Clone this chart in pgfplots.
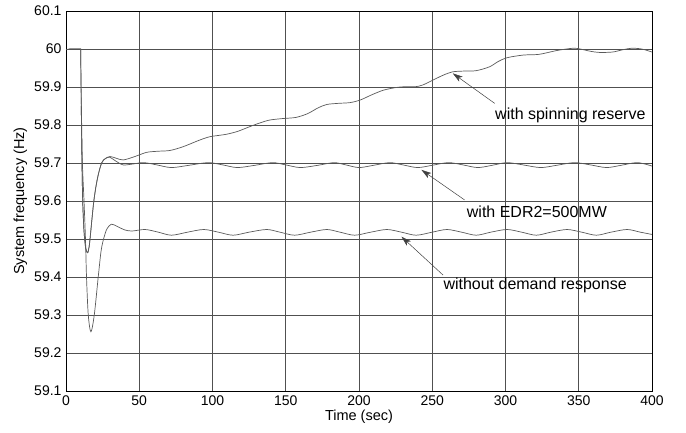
\documentclass[border=0pt]{standalone}
\usepackage{fontspec}
\setmainfont{Liberation Sans}
\usepackage{pgfplots}
\pgfplotsset{compat=1.18}
\usetikzlibrary{arrows.meta}
\definecolor{curve}{HTML}{5A5A5A}
\definecolor{gridc}{HTML}{505050}
\begin{document}
\begin{tikzpicture}[x=1pt,y=1pt]
\path (0,0) rectangle (686,432);
\begin{axis}[
  at={(66pt,41pt)}, anchor=south west,
  scale only axis, width=586pt, height=380pt,
  xmin=0, xmax=400, ymin=59.1, ymax=60.1,
  xtick={0,50,...,400},
  ytick={59.1,59.2,...,60.1},
  yticklabels={59.1,59.2,59.3,59.4,59.5,59.6,59.7,59.8,59.9,60,60.1},
  grid=major,
  major grid style={gridc, line width=0.8pt},
  axis line style={black, line width=0.8pt},
  tick style={draw=none},
  /pgf/number format/assume math mode=true,
  ticklabel style={font=\fontsize{14}{16}\selectfont},
  xticklabel style={yshift=-1pt},
  yticklabel style={xshift=-1pt},
  xlabel={Time (sec)}, ylabel={System frequency (Hz)},
  every axis x label/.style={at={(axis description cs:0.5,-0.068)}, anchor=center,
    font=\fontsize{14.5}{16}\selectfont},
  every axis y label/.style={at={(axis description cs:-0.078,0.5)}, rotate=90, anchor=center,
    font=\fontsize{14.5}{16}\selectfont},
  clip=true,
]
% initial flat part (all cases)
\addplot[curve, line width=0.7pt] coordinates {(0,59.998)(3,60.001)(10,60.001)(10.4,59.85)};
% with spinning reserve
\addplot[curve, line width=0.7pt, smooth] coordinates {
(10.4,59.85)(10.9,59.7)(11.4,59.6)(12.3,59.52)(13.5,59.475)(14.8,59.464)(15.8,59.48)(16.4,59.5)
(19,59.6)(21.5,59.66)(24.3,59.70)(27,59.712)(30,59.717)
(34,59.713)(39,59.708)(47,59.717)(55,59.728)(63,59.731)(71,59.733)(80,59.743)(91,59.760)
(98,59.769)(105,59.773)(110,59.776)(117,59.783)(125,59.795)(132,59.805)(139,59.813)(148,59.817)
(157,59.820)(165,59.830)(172,59.845)(178,59.854)(186,59.857)(194,59.859)(201,59.866)(209,59.880)
(217,59.892)(226,59.899)(233,59.901)(239,59.901)(244,59.906)(253,59.923)(258,59.932)(264,59.940)
(272,59.942)(280,59.943)(289,59.953)(295,59.967)(301,59.977)(312,59.984)(323,59.986)(335,59.996)
(346,60.002)(351,60.0)(358,59.994)(364,59.991)(373,59.992)(380,59.998)(386,60.002)(393,60.0)(400,59.992)};
% with EDR2=500MW
\addplot[curve, line width=0.7pt, smooth] coordinates {
(10.4,59.85)(10.9,59.7)(11.4,59.6)(12.3,59.52)(13.5,59.475)(14.8,59.464)(15.8,59.48)(16.4,59.5)
(19,59.6)(21.5,59.66)(24.3,59.70)(27,59.712)(30,59.715)
(34,59.705)(39,59.695)(45,59.697)(53,59.701)(62,59.695)(72,59.688)(84,59.694)(97,59.701)
(107,59.695)(117,59.688)(129,59.694)(141,59.701)(150,59.695)(160,59.688)(172,59.694)(183,59.701)
(191,59.695)(200,59.688)(210,59.694)(221,59.701)(230,59.695)(240,59.688)(250,59.694)(261,59.701)
(271,59.695)(281,59.688)(291,59.694)(301,59.701)(312,59.695)(324,59.688)(335,59.694)(347,59.701)
(358,59.695)(369,59.688)(379,59.694)(390,59.701)(400,59.692)};
% without demand response
\addplot[curve, line width=0.7pt, smooth] coordinates {
(10,60.0)(10.5,59.85)(11.2,59.7)(12.3,59.6)(13.3,59.5)(14,59.4)(15.2,59.3)(17,59.256)(19.3,59.3)
(22,59.4)(24,59.47)(26,59.505)(28,59.527)(31,59.539)
(35,59.533)(40,59.524)(45,59.521)(54,59.525)(63,59.518)(72,59.510)(83,59.518)(94,59.525)
(104,59.518)(114,59.510)(125,59.518)(137,59.525)(146,59.518)(156,59.510)(167,59.518)(178,59.525)
(187,59.518)(197,59.510)(208,59.518)(219,59.525)(229,59.518)(239,59.510)(250,59.518)(260,59.525)
(270,59.518)(280,59.510)(290,59.518)(301,59.525)(311,59.518)(321,59.510)(331,59.518)(342,59.525)
(352,59.518)(362,59.510)(372,59.518)(383,59.525)(392,59.518)(400,59.512)};
% annotations
\draw[black!75, line width=0.5pt, -{Stealth[length=10pt,width=6pt,inset=2.5pt]}] (axis cs:292.6,59.857) -- (axis cs:264,59.936);
\draw[black!75, line width=0.5pt, -{Stealth[length=10pt,width=6pt,inset=2.5pt]}] (axis cs:272,59.603) -- (axis cs:242.6,59.682);
\draw[black!75, line width=0.5pt, -{Stealth[length=10pt,width=6pt,inset=2.5pt]}] (axis cs:257.4,59.405) -- (axis cs:229,59.506);
\end{axis}
\begin{scope}[every node/.style={font=\fontsize{16}{18}\selectfont, anchor=west, inner sep=0pt}]
\node at (495,432-115) {with spinning reserve};
\node at (466.7,432-211.7) {with EDR2=500MW};
\node at (443.3,432-285) {without demand response};
\end{scope}
\end{tikzpicture}
\end{document}
